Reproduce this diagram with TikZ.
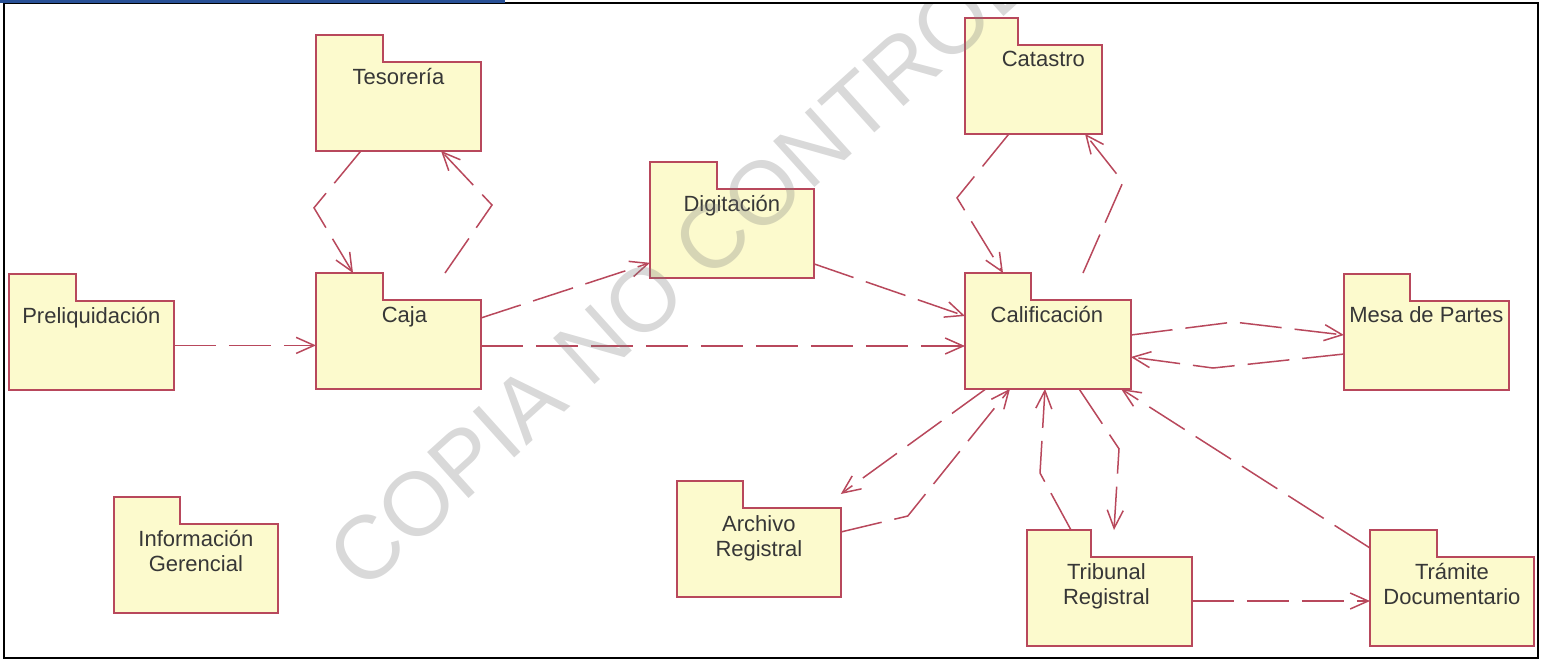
\documentclass[tikz,border=0pt]{standalone}
\usepackage{fontspec}
\setmainfont{Liberation Sans}
\usetikzlibrary{arrows.meta,positioning,calc}

\definecolor{pkgline}{RGB}{184,72,92}
\definecolor{pkgfill}{RGB}{252,250,205}
\definecolor{pkgtext}{RGB}{55,55,55}
\definecolor{topblue}{RGB}{40,80,150}

\tikzset{
  pkg/.style={anchor=north west, inner sep=0pt, minimum width=82pt, minimum height=44pt},
  pkgbox/.style={draw=pkgline, fill=pkgfill, line width=0.75pt, line join=miter},
  pkgname/.style={anchor=base, align=center, inner sep=0pt, text=pkgtext, font=\fontsize{11}{12.5}\selectfont},
  dep/.style={draw=pkgline, line width=0.75pt, dash pattern=on 21pt off 6.5pt, -{Straight Barb[length=9pt,width=8pt]}},
  wmark/.style={anchor=base west, rotate=42, inner sep=0pt, text=black!50, opacity=0.3, font=\fontsize{45}{45}\selectfont},
}

\begin{document}
\begin{tikzpicture}[x=0.5pt, y=-0.5pt]
   \useasboundingbox (0,0) rectangle (1542,661);
   % packages
   \node[pkg] (preliq) at (9,301) {};
   \node[pkg] (caja) at (316,300) {};
   \node[pkg] (tes) at (316,62) {};
   \node[pkg, minimum width=81.5pt] (digit) at (650,189) {};
   \node[pkg, minimum width=68pt] (catas) at (965,45) {};
   \node[pkg, minimum width=82.5pt] (calif) at (965,300) {};
   \node[pkg] (mesa) at (1344,301) {};
   \node[pkg, minimum width=81.5pt] (archivo) at (677,508) {};
   \node[pkg] (tribunal) at (1027,557) {};
   \node[pkg, minimum width=81.5pt] (tramite) at (1370,557) {};
   \node[pkg, minimum width=81.5pt] (info) at (114,524) {};
   \foreach \p/\w in {preliq/67, caja/67, tes/67, digit/67, catas/53, calif/66,
                      mesa/66, archivo/66, tribunal/64, tramite/67, info/66}
      \filldraw[pkgbox] (\p.south west) -- (\p.north west) -- ++(0,-27) -- ++(\w,0)
         -- ++(0,27) -| (\p.south east) -- cycle;
   % names
   \node[pkgname] (preliq_l) at ($(preliq.north)+(0,22)$) {Preliquidación};
   \node[pkgname] (caja_l) at ($(caja.north)+(6,22)$) {Caja};
   \node[pkgname] (tes_l) at ($(tes.north)+(0,22)$) {Tesorería};
   \node[pkgname] (digit_l) at ($(digit.north)+(0,22)$) {Digitación};
   \node[pkgname] (catas_l) at ($(catas.north)+(10,21)$) {Catastro};
   \node[pkgname] (calif_l) at ($(calif.north)+(-1,22)$) {Calificación};
   \node[pkgname] (mesa_l) at ($(mesa.north)+(0,21)$) {Mesa de Partes};
   \node[pkgname] (archivo_l) at ($(archivo.north)+(0,48)$) {Archivo\\Registral};
   \node[pkgname] (tribunal_l) at ($(tribunal.north)+(-3,47)$) {Tribunal\\Registral};
   \node[pkgname] (tramite_l) at ($(tramite.north)+(0,47)$) {Trámite\\Documentario};
   \node[pkgname] (info_l) at ($(info.north)+(0,47)$) {Información\\Gerencial};
   % dependencies
   \draw[dep] ($(tes.south west)+(45,0)$) -- ($(tes.south west)+(-2,57)$) -- ($(caja.north west)+(37,-27)$);
   \draw[dep] ($(caja.north west)+(129,-27)$) -- ($(caja.north west)+(176,-95)$) -- ($(tes.south west)+(125,0)$);
   \draw[dep] (preliq.east) -- (preliq.east -| caja.west);
   \draw[dep] ($(caja.north east)+(0,18)$) -- ($(digit.south west)+(0,-15)$);
   \draw[dep] ($(caja.north east)+(0,46)$) -- ($(calif.north west)+(0,46)$);
   \draw[dep] ($(digit.south east)+(0,-14)$) -- ($(calif.north west)+(0,16)$);
   \draw[dep] ($(catas.south west)+(44,0)$) -- ($(catas.south west)+(-8,64)$) -- ($(calif.north west)+(38,-27)$);
   \draw[dep] ($(calif.north west)+(118,-27)$) -- ($(calif.north west)+(158,-118)$) -- ($(catas.south west)+(120,0)$);
   \draw[dep] ($(calif.north east)+(0,35)$) -- ($(calif.north east)+(103,22)$) -- ($(mesa.north west)+(0,34)$);
   \draw[dep] ($(mesa.north west)+(0,53)$) -- ($(mesa.north west)+(-131,67)$) -- ($(calif.north east)+(0,57)$);
   \draw[dep] ($(calif.south west)+(21,0)$) -- ($(archivo.north east)+(0,-14)$);
   \draw[dep] ($(archivo.north east)+(0,24)$) -- ($(archivo.north east)+(67,8)$) -- ($(calif.south west)+(45,0)$);
   \draw[dep] ($(tribunal.north west)+(44,-27)$) -- ($(tribunal.north west)+(13,-84)$) -- ($(calif.south west)+(80,0)$);
   \draw[dep] ($(calif.south west)+(114,0)$) -- ($(calif.south west)+(154,60)$) -- ($(tribunal.north west)+(87,-27)$);
   \draw[dep] ($(tramite.north west)+(0,-9)$) -- ($(calif.south west)+(156,0)$);
   \draw[dep] ($(tribunal.north east)+(0,44)$) -- ($(tramite.north west)+(0,44)$);
   % watermark and frame
   \begin{scope}
      \clip (4,2) rectangle (1538,658);
      \node[wmark] (copia) at (363,594) {COPIA NO CONTROLADA};
   \end{scope}
   \draw[line width=1pt] (4,3) rectangle (1538,658);
   \draw[topblue, line width=1.25pt] (0,1.3) -- (505,1.3);
\end{tikzpicture}
\end{document}
